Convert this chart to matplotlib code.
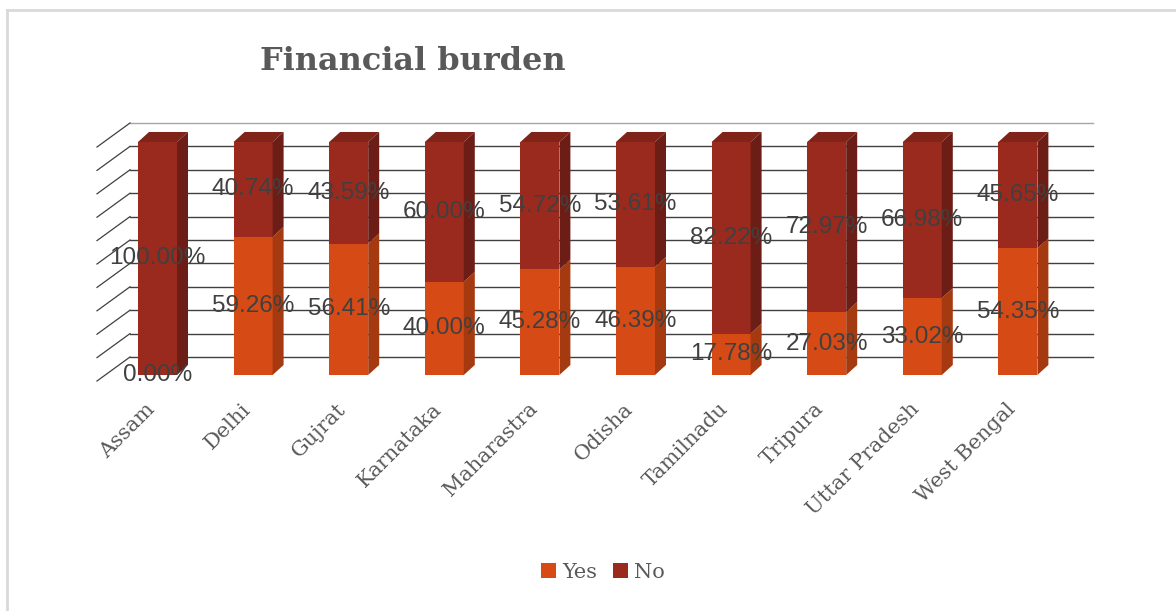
import numpy as np
import matplotlib.pyplot as plt
from matplotlib.patches import Polygon, Patch

# data
states = ['Assam', 'Delhi', 'Gujrat', 'Karnataka', 'Maharastra', 'Odisha',
          'Tamilnadu', 'Tripura', 'Uttar Pradesh', 'West Bengal']
yes_pct = [0.00, 59.26, 56.41, 40.00, 45.28, 46.39, 17.78, 27.03, 33.02, 54.35]
no_pct = [100.00, 40.74, 43.59, 60.00, 54.72, 53.61, 82.22, 72.97, 66.98, 45.65]

W, H = 1176, 611
fig = plt.figure(figsize=(W / 100, H / 100), dpi=100)
ax = fig.add_axes([0, 0, 1, 1])

# map pixels -> data so that category i sits at x=i and 0..1 is the bar height
x0_px, step_px = 157.5, 95.6
base_px, full_px = 375, 233
ax.set_xlim(-x0_px / step_px, (W - x0_px) / step_px)
ax.set_ylim((base_px - H) / full_px, base_px / full_px)
ax.axis('off')


def px_x(px):
    return (px - x0_px) / step_px


def px_y(py):
    return (base_px - py) / full_px


# back wall gridlines and left wall diagonals
for k in range(11):
    v = k / 10
    yb = 357 - 234 * v
    col = '#a6a6a6' if k == 10 else '#404040'
    ax.plot([px_x(130), px_x(1093)], [px_y(yb), px_y(yb)], color=col, lw=1.0, zorder=1)
    ax.plot([px_x(97), px_x(130)], [px_y(yb + 24), px_y(yb)], color='#404040', lw=0.9, zorder=1)

# pseudo 3D stacked columns
w, dx, dy = 0.204, 0.115, 0.043
yes_c = ('#D64A16', '#A53A10', '#C44414')
no_c = ('#9A2A1E', '#6C1E16', '#80241A')

for i, (y, n) in enumerate(zip(yes_pct, no_pct)):
    segs = [(0, y / 100, yes_c), (y / 100, (y + n) / 100, no_c)]
    for j, (v0, v1, c) in enumerate(segs):
        if v1 - v0 <= 0:
            continue
        front = [(i - w, v0), (i + w, v0), (i + w, v1), (i - w, v1)]
        side = [(i + w, v0), (i + w + dx, v0 + dy), (i + w + dx, v1 + dy), (i + w, v1)]
        ax.add_patch(Polygon(front, closed=True, fc=c[0], ec='none', zorder=3))
        ax.add_patch(Polygon(side, closed=True, fc=c[1], ec='none', zorder=3))
        if j == 1:
            top = [(i - w, v1), (i - w + dx, v1 + dy), (i + w + dx, v1 + dy), (i + w, v1)]
            ax.add_patch(Polygon(top, closed=True, fc=c[2], ec='none', zorder=3))

    # data labels
    ax.text(i, y / 200, f'{y:.2f}%', ha='center', va='center', fontsize=17.5,
            family='Liberation Sans', color='#404040', zorder=5)
    ax.text(i, y / 100 + n / 200, f'{n:.2f}%', ha='center', va='center', fontsize=17.5,
            family='Liberation Sans', color='#404040', zorder=5)

    # category labels
    ax.text(i - 0.06, px_y(406), states[i], rotation=45, rotation_mode='anchor',
            ha='right', va='center', fontsize=15, family='DejaVu Serif',
            color='#595959', zorder=5)

# title
fig.text(413 / W, 1 - 62 / H, 'Financial burden', ha='center', va='center',
         fontsize=23, fontweight='bold', family='DejaVu Serif', color='#595959')

# legend
handles = [Patch(fc=yes_c[0], ec='none', label='Yes'), Patch(fc=no_c[0], ec='none', label='No')]
leg = fig.legend(handles=handles, loc='center', bbox_to_anchor=(603 / W, 1 - 572 / H),
                 ncol=2, frameon=False, handlelength=0.7, handleheight=0.7,
                 handletextpad=0.3, columnspacing=0.8,
                 prop={'family': 'DejaVu Serif', 'size': 15})
for t in leg.get_texts():
    t.set_color('#595959')

# outer chart border (top and left visible)
ax.plot([px_x(6.5), px_x(W)], [px_y(9.5), px_y(9.5)], color='#d9d9d9', lw=2, zorder=0)
ax.plot([px_x(6.5), px_x(6.5)], [px_y(9.5), px_y(H)], color='#d9d9d9', lw=2, zorder=0)

fig.savefig('out.png', dpi=100)
